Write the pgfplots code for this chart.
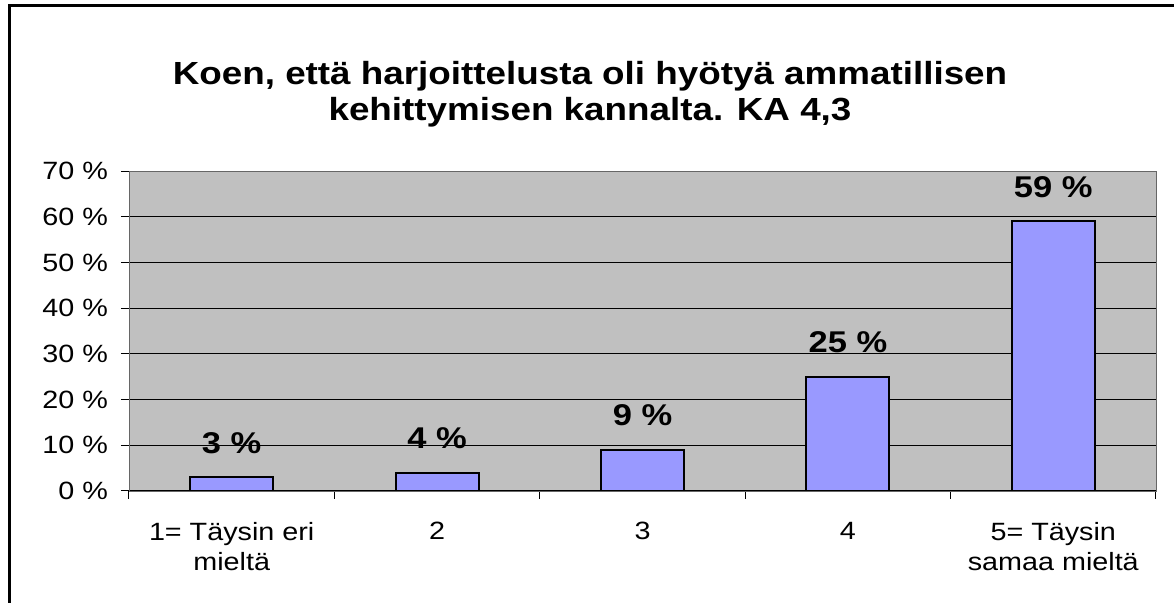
\documentclass[border=0pt]{standalone}
\usepackage{fontspec}
\setmainfont{Liberation Sans}[FakeStretch=1.15]
\usepackage{pgfplots}
\pgfplotsset{compat=1.18}
\definecolor{barblue}{HTML}{9999FF}
\definecolor{plotgray}{HTML}{C0C0C0}
\begin{document}
\begin{tikzpicture}
\useasboundingbox (0pt,0pt) rectangle (587pt,301.5pt);
% outer chart frame (only left and top edges are visible)
\draw[line width=1.5pt] (4.5pt,0pt) -- (4.5pt,298.5pt) -- (587pt,298.5pt);
\node[font=\fontsize{16}{18}\selectfont\bfseries, align=center] at (295pt,254.5pt)
  {Koen, että harjoittelusta oli hyötyä ammatillisen\\kehittymisen kannalta. KA 4,3};
\begin{axis}[
  at={(64.5pt,56pt)}, anchor=south west,
  scale only axis, width=513.5pt, height=160pt,
  ybar, bar width=41.5pt,
  xmin=0.5, xmax=5.5, ymin=0, ymax=70,
  axis background/.style={fill=plotgray},
  axis line style={draw=black!60},
  xtick={1,2,3,4,5},
  xticklabels={{1= Täysin eri\\mieltä},2,3,4,{5= Täysin\\samaa mieltä}},
  major x tick style={draw=none},
  minor xtick={0.5,1.5,...,5.5},
  minor tick length=4pt, major tick length=4pt,
  tick align=outside, tick pos=left,
  tick style={black, line width=0.5pt},
  ytick={0,10,...,70},
  yticklabels={0 \%,10 \%,20 \%,30 \%,40 \%,50 \%,60 \%,70 \%},
  ymajorgrids, grid style={black, line width=0.5pt},
  ticklabel style={font=\fontsize{12.5}{15}\selectfont},
  xticklabel style={align=center, yshift=-8pt},
  yticklabel style={xshift=-3pt},
  /pgf/number format/assume math mode=true,
  nodes near coords={\bfseries\pgfmathprintnumber{\pgfplotspointmeta}~\%},
  nodes near coords style={font=\fontsize{15}{18}\selectfont, yshift=8pt},
]
\addplot[fill=barblue, draw=black, line width=1pt]
  coordinates {(1,3) (2,4) (3,9) (4,25) (5,59)};
\end{axis}
\end{tikzpicture}
\end{document}
